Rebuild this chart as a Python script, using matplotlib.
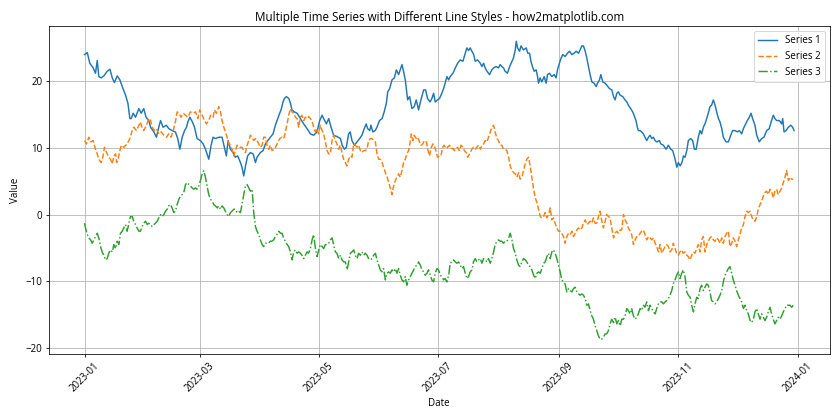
import numpy as np
import pandas as pd
import matplotlib
matplotlib.use("Agg")
import matplotlib.pyplot as plt
import matplotlib.dates as mdates

plt.rcParams['font.family'] = ['Open Sans', 'DejaVu Sans']

start = pd.Timestamp("2023-01-01")

# -----------------------------
# Series 1 (day offsets from 2023-01-01)
# -----------------------------
s1_days = [
    0, 1.4, 2.7, 4.4, 5.6, 6.5, 7.3, 8.5, 9.9, 11.6,
    13.0, 14.2, 15.3, 16.7, 18.1, 19.3, 21.0, 22.2, 23.2, 23.9,
    24.9, 26.1, 27.8, 29.0, 30.3, 31.5, 32.9, 33.8, 35.5, 36.8,
    38.0, 38.9, 40.2, 41.9, 43.1, 44.8, 46.5, 47.7, 48.8, 50.0,
    51.2, 52.2, 52.9, 53.9, 55.2, 56.3, 57.6, 59.3, 60.7, 61.9,
    63.6, 64.8, 65.8, 67.0, 68.7, 70.4, 71.6, 72.6, 73.5, 74.7,
    76.0, 77.2, 78.4, 79.8, 80.6, 81.5, 82.4, 83.5, 84.9, 86.3,
    87.5, 88.3, 90.0, 91.4, 92.6, 93.8, 95.1, 96.5, 97.7, 98.9,
    99.9,
    100.6, 101.6, 102.3, 103.3, 104.6, 105.4, 106.2, 107.4, 108.8, 110.5,
    112.2, 113.9, 115.6, 117.3, 119.0, 120.4, 121.6, 122.4, 123.8, 125.0,
    126.2, 127.5, 129.2, 131.0, 131.9, 133.0, 134.0, 135.2, 136.0, 136.9,
    138.1, 139.5, 140.8, 142.0, 143.2, 144.2, 144.9, 146.0, 146.6, 147.6,
    148.8, 149.7, 151.0, 152.3, 153.4, 154.5, 155.2, 156.2, 157.4, 158.6,
    159.6, 160.8, 161.6, 162.5, 163.3, 164.2, 164.7, 165.4, 166.4, 167.6,
    168.8, 169.8, 171.0, 172.2, 173.6, 174.6, 175.6, 176.9, 177.8, 178.7,
    179.5, 180.7, 181.7, 182.9, 183.8, 184.6, 185.5, 186.4, 187.2, 188.6,
    189.8, 191.0, 192.3, 193.7, 194.9, 195.7, 196.6, 197.4,
    198.3, 199.2, 200.0, 201.2, 202.6, 203.4, 204.3, 205.1, 206.0, 207.3,
    208.5, 209.4, 210.7, 211.9, 212.8, 213.6, 214.5, 215.3, 216.5, 217.6,
    218.8, 219.6, 220.5, 221.0, 221.7, 222.7, 223.4, 224.7, 226.1, 226.9,
    227.8, 228.5, 229.5, 230.2, 231.2, 231.9, 232.4, 233.2, 234.1, 235.3,
    236.3, 237.0, 238.0, 239.2, 240.4, 241.4, 242.1, 243.1, 244.0, 244.8,
    246.0, 247.2, 248.3, 249.4, 250.6, 251.7, 252.9, 253.7, 254.6, 255.4,
    256.3, 257.1, 258.0, 258.8, 259.7, 260.9, 261.9, 262.6, 263.6, 264.3,
    265.3, 266.5, 267.4, 268.7, 269.9, 270.8, 271.6, 272.5, 273.3, 274.2,
    275.5, 276.7, 277.6, 278.4, 279.6, 280.6, 281.3, 282.3, 283.0, 283.5,
    284.4, 285.2, 286.1, 286.9, 287.8, 288.7, 289.5, 290.4, 291.2, 292.1,
    292.9, 294.3,
    295.0, 296.3, 297.7, 298.9, 300.1, 301.1, 302.3, 303.2, 304.0, 304.9,
    305.8, 306.6, 307.4, 308.3, 309.1, 310.3, 311.3, 312.2, 313.1, 314.2,
    315.1, 315.9, 316.8, 317.6, 318.5, 319.3, 320.2, 321.0, 321.9, 322.8,
    323.6, 324.5, 325.3, 326.2, 327.0, 328.4, 329.6, 330.8, 331.8, 333.0,
    334.2, 335.2, 336.4, 337.3, 338.1, 339.3, 340.3, 341.2, 342.0, 343.2,
    344.1, 345.4, 346.6, 347.8, 349.2, 350.5, 351.7, 352.6, 353.4, 354.3,
    355.7, 356.9, 357.4, 358.1, 359.1, 360.3, 361.5, 362.5, 363.2,
]
s1_vals = [
    24.0, 24.3, 22.7, 22.0, 21.2, 23.1, 20.7, 20.5, 20.8, 21.5,
    21.8, 20.5, 19.8, 20.8, 20.2, 19.2, 17.9, 16.7, 14.4, 14.4,
    15.2, 14.6, 15.9, 15.2, 15.9, 14.6, 14.1, 13.1, 12.4, 11.6,
    13.1, 14.1, 13.1, 13.4, 12.9, 12.6, 12.4, 11.4, 9.8, 11.6,
    12.6, 13.1, 13.9, 14.6, 13.9, 13.1, 11.4, 11.1, 10.6, 9.8,
    8.3, 10.4, 11.6, 11.4, 11.6, 11.6, 10.1, 8.8, 11.1, 9.8,
    9.3, 8.6, 8.8, 7.8, 7.1, 5.8, 7.3, 8.8, 9.3, 9.1,
    7.8, 8.6, 9.3, 9.6, 10.6, 11.1, 11.6, 12.1, 13.4, 14.4,
    15.2,
    15.7, 16.9, 17.4, 17.7, 17.4, 16.7, 15.7, 15.4, 15.2, 14.4,
    13.6, 12.9, 12.1, 11.9, 12.4, 14.1, 14.9, 14.4, 13.6, 14.4,
    13.1, 11.9, 11.7, 11.4, 10.4, 9.8, 10.1, 12.1, 12.4, 11.1,
    10.4, 10.9, 11.4, 11.9, 12.9, 13.6, 12.9, 12.6, 13.4, 12.4,
    12.6, 13.1, 14.1, 14.4, 15.4, 16.7, 18.4, 18.9, 20.2, 20.5,
    21.7, 21.0, 21.7, 22.5, 21.5, 20.2, 18.9, 17.2, 17.7, 15.9,
    16.2, 17.2, 15.7, 17.2, 18.7, 18.7, 17.4, 16.9, 17.4, 18.2,
    16.9, 17.2, 17.4, 18.2, 18.9, 19.7, 20.7, 20.2, 20.7, 21.2,
    22.0, 22.7, 23.2, 23.0, 24.2, 25.0, 24.6, 25.0,
    24.5, 24.0, 23.0, 23.2, 22.7, 22.2, 22.7, 22.0, 21.5, 21.0,
    21.7, 22.0, 22.2, 22.0, 22.5, 22.2, 22.0, 21.5, 21.2, 22.2,
    23.0, 23.5, 24.7, 26.0, 25.0, 24.5, 25.3, 24.7, 25.0, 24.2,
    24.2, 23.0, 22.0, 21.5, 21.7, 20.7, 19.7, 20.5, 19.9, 20.7,
    19.7, 21.0, 21.2, 20.7, 21.0, 20.5, 21.7, 22.7, 23.5, 24.0,
    23.7, 24.2, 24.5, 24.0, 24.2, 24.5, 24.2, 24.7, 25.3, 25.3,
    24.5, 23.5, 22.2, 21.0, 19.9, 19.7, 19.2, 19.7, 20.2, 21.0,
    19.9, 19.7, 19.4, 18.9, 18.7, 17.7, 17.2, 18.2, 18.4, 17.9,
    17.7, 17.2, 16.9, 16.4, 15.9, 15.4, 14.9, 14.1, 13.1, 12.6,
    12.6, 12.4, 12.1, 11.6, 11.1, 11.6, 11.9, 11.4, 11.6, 11.1,
    10.9, 11.1,
    10.6, 10.4, 9.8, 10.4, 9.8, 9.6, 8.3, 7.1, 7.8, 7.3,
    7.8, 8.8, 8.6, 9.6, 11.1, 11.4, 11.1, 9.8, 9.8, 11.6,
    12.6, 12.1, 13.1, 13.6, 14.4, 15.2, 16.2, 16.4, 17.2, 16.4,
    15.4, 14.4, 13.9, 12.9, 11.6, 10.9, 10.9, 11.9, 12.6, 12.6,
    12.4, 12.6, 12.1, 12.9, 13.4, 14.1, 14.6, 15.2, 14.4, 13.4,
    11.9, 10.9, 11.4, 11.6, 12.6, 12.9, 14.1, 14.9, 14.4, 14.1,
    14.1, 13.6, 14.4, 12.4, 12.6, 13.1, 13.4, 13.1, 12.6,
]

# -----------------------------
# Shared sample days for Jul-Dec (series 2 and 3)
# -----------------------------
days_jul_oct = [
    198.3, 199.1, 200.0, 200.8, 201.7, 202.6, 203.4, 204.3, 205.1, 206.0,
    206.8, 207.7, 208.5, 209.4, 210.2, 211.1, 211.9, 212.8, 213.6, 214.5,
    215.3, 216.2, 217.1, 217.9, 218.8, 219.6, 220.5, 221.3, 222.2, 223.0,
    223.9, 224.7, 225.6, 226.4, 227.3, 228.1, 229.0, 229.9, 230.7, 231.6,
    232.4, 233.3, 234.1, 235.0, 235.8, 236.7, 237.5, 238.4, 239.2, 240.1,
    240.9, 241.8, 242.6, 243.5, 244.3, 245.2, 246.0, 246.9, 247.8, 248.6,
    249.5, 250.3, 251.2, 252.0, 252.9, 253.7, 254.6, 255.4, 256.3, 257.1,
    258.0, 258.8, 259.7, 260.5, 261.4, 262.2, 263.1, 263.9, 264.8, 265.6,
    266.5, 267.3, 268.2, 269.0, 269.9, 270.8, 271.6, 272.5, 273.3, 274.2,
    275.0, 275.9, 276.7, 277.6, 278.4, 279.3, 280.1, 281.0, 281.8, 282.7,
    283.5, 284.4, 285.2, 286.1, 286.9, 287.8, 288.7, 289.5, 290.4, 291.2,
    292.1, 292.9, 293.8, 294.6,
]
days_oct_dec = [
    295.5, 296.3, 297.2, 298.0, 298.9, 299.7, 300.6, 301.4, 302.3, 303.1,
    304.0, 304.8, 305.7, 306.5, 307.4, 308.3, 309.1, 310.0, 310.8, 311.7,
    312.5, 313.4, 314.2, 315.1, 315.9, 316.8, 317.6, 318.5, 319.3, 320.2,
    321.0, 321.9, 322.8, 323.6, 324.5, 325.3, 326.2, 327.0, 327.9, 328.7,
    329.6, 330.4, 331.3, 332.1, 333.0, 333.8, 334.7, 335.5, 336.4, 337.3,
    338.1, 339.0, 339.8, 340.7, 341.5, 342.4, 343.2, 344.1, 344.9, 345.8,
    346.6, 347.5, 348.3, 349.2, 350.0, 350.9, 351.7, 352.6, 353.4, 354.3,
    355.1, 356.0, 356.9, 357.7, 358.6, 359.4, 360.3, 361.1, 362.0, 362.8,
]

# -----------------------------
# Series 2
# -----------------------------
s2_days_h1 = [
    0, 1.0, 2.2, 3.1, 4.4, 5.6, 6.5, 7.3, 8.5, 9.5,
    10.2, 11.3, 12.4, 13.3, 14.2, 15.0, 15.9, 16.4, 17.0, 18.1,
    18.8, 20.1, 21.8, 23.2, 24.4, 25.2, 26.6, 27.8, 28.6, 29.5,
    30.3, 31.7, 32.9, 33.8, 34.6, 35.8, 36.8, 38.0, 39.2, 40.6,
    41.9, 43.1, 44.3, 45.4, 46.5, 47.4, 48.3, 49.4, 50.5, 51.7,
    52.9, 54.2, 55.6, 56.8, 58.0, 59.0, 60.2, 61.4, 62.4, 63.6,
    64.5, 65.8, 66.5, 67.5, 68.7, 69.6, 70.4, 71.3, 72.1, 73.0,
    73.8, 74.7, 75.5, 76.4, 77.2, 78.1, 79.5, 80.6, 81.5, 82.4,
    83.2, 84.1, 84.9, 85.8, 86.6, 87.5, 88.3, 89.2, 90.0, 90.9,
    91.7, 92.6, 93.4, 94.3, 95.1, 96.0, 97.2, 98.6, 99.9,
    101.1, 102.0, 102.8, 103.7, 104.5, 105.4, 106.2, 107.1, 108.0, 108.8,
    109.6, 110.5, 111.3, 112.2, 113.0, 113.9, 114.7, 115.6, 116.4, 117.3,
    118.1, 119.0, 119.8, 120.7, 121.6, 122.4, 123.3, 124.1, 125.0, 125.8,
    126.7, 127.5, 128.4, 129.2, 130.1, 130.9, 131.8, 132.6, 133.5, 134.3,
    135.2, 136.0, 136.9, 137.8, 138.6, 139.5, 140.3, 141.2, 142.0, 142.9,
    143.7, 144.6, 145.4, 146.3, 147.1, 148.0, 148.9, 149.7, 150.6, 151.4,
    152.3, 153.1, 154.0, 154.9, 155.7, 156.5, 157.4, 158.2, 159.1, 159.9,
    160.8, 161.6, 162.5, 163.3, 164.2, 165.0, 165.9, 166.7, 167.3, 168.1,
    168.8, 169.8, 170.5, 171.5, 172.2, 173.2, 173.9, 175.0, 175.6, 176.6,
    177.3, 178.3, 179.0, 180.1, 180.7, 181.7, 182.4, 183.4, 184.1, 185.1,
    185.8, 186.9, 187.6, 188.6, 189.3, 190.3, 190.9, 191.9, 192.7, 193.7,
    194.4, 195.4, 196.1, 197.1,
]
s2_vals = [
    11.1, 10.6, 11.6, 10.9, 11.1, 9.8, 9.1, 8.3, 7.8, 8.8,
    10.1, 9.3, 8.6, 8.3, 7.6, 8.8, 9.1, 7.8, 8.1, 9.6,
    10.4, 10.1, 10.6, 11.4, 12.6, 13.1, 12.6, 13.4, 13.9, 12.9,
    12.6, 13.4, 14.4, 14.1, 13.1, 12.6, 12.9, 12.1, 12.4, 11.9,
    11.6, 12.1, 11.6, 12.6, 13.9, 15.4, 15.2, 14.6, 15.2, 14.9,
    14.6, 15.4, 15.2, 15.4, 14.4, 15.7, 14.9, 14.1, 13.6, 14.1,
    14.9, 14.6, 15.7, 15.2, 16.2, 15.4, 14.1, 13.1, 12.4, 11.6,
    10.6, 10.4, 9.8, 8.8, 9.6, 10.4, 10.1, 10.1, 9.6, 9.3,
    10.4, 11.1, 11.9, 11.6, 11.1, 11.4, 11.1, 10.6, 10.1, 10.4,
    11.6, 11.6, 10.4, 9.8, 10.4, 9.6, 9.8, 10.6, 11.4,
    11.6, 11.4, 12.4, 13.6, 14.9, 15.9, 15.4, 15.2, 14.6, 14.4,
    13.1, 14.6, 14.9, 14.1, 14.6, 14.4, 14.7, 14.4, 14.1, 13.1,
    12.4, 12.9, 12.1, 13.4, 12.6, 12.1, 10.9, 9.6, 9.1, 9.1,
    11.1, 11.9, 11.1, 10.6, 9.8, 10.4, 9.3, 8.3, 7.8, 7.3,
    8.3, 8.8, 8.6, 10.6, 10.4, 10.1, 10.4, 9.6, 9.3, 9.6,
    9.6, 9.8, 11.1, 11.4, 11.4, 11.1, 10.9, 9.1, 8.3, 8.3,
    7.8, 7.1, 6.3, 5.6, 4.8, 4.0, 3.0, 4.3, 5.1, 5.6,
    6.1, 5.6, 6.6, 7.8, 8.3, 9.1, 9.6, 10.9, 12.1, 11.1,
    11.9, 11.4, 11.6, 10.9, 10.4, 10.6, 11.1, 10.9, 9.9, 8.8,
    9.9, 10.6, 10.4, 9.3, 8.6, 8.8, 8.8, 10.1, 10.4, 9.9,
    10.1, 10.4, 9.9, 9.9, 9.6, 9.9, 10.1, 9.6, 10.4, 10.1,
    9.6, 9.3, 8.6, 9.1,
    9.8, 10.1, 9.8, 10.1, 10.4, 9.8, 10.4, 10.6, 11.1, 10.9,
    11.6, 12.4, 13.1, 13.4, 12.4, 11.4, 11.1, 10.4, 10.4, 9.8,
    9.8, 9.6, 8.6, 7.3, 6.6, 6.3, 6.1, 5.6, 6.3, 5.3,
    5.6, 6.6, 7.6, 8.3, 8.6, 7.3, 5.6, 3.8, 2.5, 1.8,
    0.8, -0.3, -0.5, -0.3, 0.3, -0.5, 0.0, 1.0, -0.8, -0.5,
    -1.3, -2.0, -2.5, -2.5, -2.8, -3.3, -4.3, -3.3, -2.8, -3.0,
    -2.5, -3.3, -2.8, -2.3, -2.0, -2.3, -2.0, -1.3, -0.8, -1.5,
    -1.3, -1.0, -1.3, -0.5, -1.3, -1.3, -0.3, 0.5, -1.0, -2.0,
    -1.0, 0.0, -0.3, -0.5, -2.0, -3.5, -2.8, -2.5, -2.8, -2.3,
    -2.3, 0.0, -0.8, -1.3, -2.0, -2.5, -3.0, -4.5, -3.8, -3.3,
    -3.3, -2.8, -2.5, -2.3, -3.0, -3.8, -3.3, -3.5, -3.8, -3.5,
    -4.3, -4.8, -5.6, -4.5,
    -5.8, -5.3, -4.8, -4.5, -4.8, -5.6, -5.3, -4.3, -5.1, -5.8,
    -6.1, -5.6, -5.3, -5.8, -5.6, -6.1, -6.3, -6.8, -6.1, -5.6,
    -5.8, -5.1, -4.5, -5.6, -3.8, -3.3, -5.6, -4.5, -4.0, -3.5,
    -3.3, -3.8, -4.0, -3.5, -3.8, -4.3, -3.5, -4.3, -3.3, -2.8,
    -2.5, -4.8, -4.3, -3.5, -4.0, -4.8, -3.8, -3.0, -2.0, -1.5,
    -0.3, 0.5, 0.3, 0.5, -0.3, -0.8, -1.0, -0.3, 0.8, 1.5,
    2.0, 2.8, 3.3, 3.5, 3.0, 3.8, 3.5, 2.5, 3.5, 3.8,
    3.0, 3.5, 4.0, 4.8, 5.6, 6.6, 5.1, 5.6, 5.3, 5.3,
]
s2_days = s2_days_h1 + days_jul_oct + days_oct_dec

# -----------------------------
# Series 3
# -----------------------------
s3_days_h1 = [
    0, 0.5, 1.4, 2.2, 3.1, 3.9, 4.8, 5.6, 6.5, 7.3,
    8.2, 9.0, 9.9, 10.7, 11.6, 12.4, 13.3, 14.2, 15.0, 15.9,
    16.7, 17.6, 18.4, 19.3, 20.1, 21.0, 21.8, 22.7, 23.5, 24.4,
    25.2, 26.1, 26.9, 27.8, 28.6, 29.5, 30.3, 31.2, 32.1, 32.9,
    33.8, 34.6, 35.5, 36.3, 37.2, 38.0, 38.9, 39.7, 40.6, 41.4,
    42.3, 43.1, 44.0, 44.8, 45.7, 46.5, 47.4, 48.3, 49.1, 50.0,
    50.8, 51.7, 52.5, 53.4, 54.2, 55.1, 55.9, 56.8, 57.6, 58.5,
    59.3, 60.2, 61.0, 61.9, 62.7, 63.6, 64.5, 65.3, 66.2, 67.0,
    67.9, 68.7, 69.6, 70.4, 71.3, 72.1, 73.0, 73.8, 74.7, 75.5,
    76.4, 77.2, 78.1, 78.9, 79.8, 80.6, 81.5, 82.4, 83.2, 84.1,
    84.9, 85.8, 86.6, 87.5, 88.3, 89.2, 90.0, 90.9, 91.7, 92.6,
    93.4, 94.3, 95.1, 95.9, 96.8, 97.7, 98.5, 99.4, 100.3,
    101.1, 101.9, 102.8, 103.7, 104.5, 105.4, 106.2, 107.1, 107.9, 108.8,
    109.6, 110.5, 111.3, 112.2, 113.0, 113.9, 114.7, 115.6, 116.5, 117.3,
    118.2, 119.0, 119.9, 120.7, 121.6, 122.4, 123.3, 124.1, 125.0, 125.8,
    126.7, 127.5, 128.4, 129.2, 130.1, 131.0, 131.8, 132.7, 133.5, 134.4,
    135.2, 136.1, 136.9, 137.8, 138.6, 139.5, 140.3, 141.2, 142.0, 142.9,
    143.7, 144.6, 145.4, 146.3, 147.2, 148.0, 148.9, 149.7, 150.6, 151.4,
    152.3, 153.1, 154.0, 154.8, 155.7, 156.5, 157.4, 158.2, 159.1, 159.9,
    160.8, 161.6, 162.5, 163.3, 164.2, 165.0, 165.9, 166.8, 167.6, 168.5,
    169.3, 170.2, 171.0, 171.9, 172.7, 173.6, 174.4, 175.3, 176.1, 177.0,
    177.8, 178.7, 179.5, 180.4, 181.2, 182.1, 182.9, 183.8, 184.6, 185.5,
    186.4, 187.2, 188.1, 188.9, 189.8, 190.6, 191.5, 192.3, 193.2, 194.0,
    194.9, 195.7, 196.6, 197.4,
]
s3_vals = [
    -1.3, -2.0, -3.0, -3.5, -3.8, -4.3, -3.8, -3.3, -2.8, -3.5,
    -4.8, -5.6, -6.1, -6.8, -6.6, -5.8, -5.3, -5.6, -4.5, -5.1,
    -4.0, -4.5, -2.8, -2.5, -2.0, -1.5, -2.5, -1.3, -0.3, -0.3,
    -1.0, -1.5, -2.0, -2.5, -2.5, -1.8, -1.3, -1.0, -1.5, -1.3,
    -1.5, -1.8, -1.5, -1.3, -1.0, -0.5, 0.0, -0.3, 0.0, 0.5,
    0.8, 1.3, 1.5, 1.0, 0.3, 0.5, 1.5, 2.3, 2.8, 3.0,
    3.3, 4.5, 4.8, 4.5, 4.3, 4.0, 3.8, 4.0, 3.8, 4.3,
    5.1, 6.1, 6.6, 5.6, 4.3, 3.0, 2.3, 2.0, 1.5, 1.3,
    1.0, 1.3, 0.8, 1.3, 1.0, 0.5, 0.0, -0.3, 0.3, 0.5,
    0.8, 0.8, 0.3, 0.5, 0.3, 1.5, 3.0, 4.3, 4.5, 4.0,
    3.5, 3.8, 0.3, -1.8, -2.5, -3.0, -3.8, -4.5, -4.8, -4.3,
    -4.3, -4.3, -4.0, -4.0, -3.8, -3.3, -3.0, -2.5, -2.8,
    -2.8, -3.5, -4.0, -4.5, -4.8, -5.6, -6.8, -5.6, -5.3, -5.8,
    -5.6, -5.8, -6.1, -6.6, -6.1, -5.6, -5.8, -5.1, -3.8, -3.0,
    -5.1, -6.3, -5.3, -4.5, -4.8, -5.1, -4.5, -4.5, -4.3, -3.8,
    -3.5, -4.5, -5.6, -5.8, -6.6, -6.1, -6.8, -7.1, -7.1, -8.3,
    -7.1, -5.8, -5.6, -5.3, -6.1, -6.6, -5.8, -6.1, -5.6, -6.1,
    -5.8, -6.1, -6.6, -6.8, -6.6, -6.1, -5.8, -6.8, -7.6, -8.3,
    -8.6, -8.1, -9.8, -8.8, -8.6, -8.8, -8.3, -8.6, -8.1, -8.8,
    -8.1, -9.1, -9.8, -10.1, -9.3, -10.6, -9.8, -9.3, -8.8, -8.3,
    -7.8, -7.6, -7.1, -7.6, -8.3, -8.6, -9.1, -8.8, -8.3, -9.1,
    -9.8, -10.1, -8.8, -8.1, -8.3, -9.1, -9.3, -9.8, -9.6, -10.1,
    -9.1, -7.3, -7.1, -6.8, -7.1, -7.3, -7.1, -7.6, -8.1, -7.8,
    -8.8, -9.6, -9.3, -8.6,
    -8.3, -7.1, -6.6, -7.1, -6.8, -6.6, -7.3, -6.6, -6.8, -7.1,
    -6.6, -7.3, -6.6, -5.6, -4.5, -4.0, -3.8, -4.0, -4.0, -4.3,
    -4.0, -4.0, -3.5, -2.8, -3.8, -5.1, -5.8, -6.8, -7.6, -7.8,
    -7.1, -6.6, -6.8, -7.1, -7.6, -7.8, -8.3, -9.1, -9.6, -8.8,
    -8.6, -8.8, -8.1, -7.3, -7.1, -6.3, -5.8, -6.6, -5.6, -5.3,
    -5.8, -6.6, -7.6, -8.6, -9.8, -10.1, -10.4, -11.6, -11.1, -11.4,
    -11.6, -11.1, -10.9, -11.6, -11.9, -12.1, -11.9, -12.1, -12.6, -13.6,
    -13.4, -14.4, -15.2, -15.7, -16.7, -17.4, -18.2, -18.7, -18.7, -18.4,
    -17.9, -17.9, -17.4, -16.4, -15.7, -16.2, -15.4, -16.4, -15.9, -16.7,
    -15.7, -15.7, -15.2, -14.1, -14.4, -14.9, -14.1, -15.2, -15.7, -15.4,
    -14.9, -14.1, -14.4, -13.6, -13.9, -13.1, -14.4, -13.6, -14.1, -14.6,
    -14.9, -14.1, -13.4, -13.1,
    -13.1, -13.4, -13.1, -12.9, -12.6, -12.1, -11.4, -10.4, -9.8, -9.1,
    -8.6, -9.6, -8.8, -8.3, -9.3, -11.6, -12.1, -12.4, -13.6, -14.6,
    -13.4, -12.4, -12.6, -11.1, -10.6, -11.4, -10.9, -10.4, -10.6, -11.6,
    -12.9, -13.1, -13.4, -13.1, -12.6, -12.1, -11.4, -10.1, -9.1, -8.6,
    -8.1, -7.8, -8.8, -9.8, -10.6, -11.4, -12.1, -12.6, -13.1, -14.1,
    -13.6, -14.4, -14.9, -15.9, -16.2, -15.7, -14.6, -14.1, -14.9, -15.7,
    -14.9, -15.4, -15.9, -15.4, -14.6, -13.9, -14.9, -15.7, -16.4, -15.9,
    -15.4, -15.7, -15.2, -14.6, -14.1, -13.6, -13.6, -13.6, -13.9, -13.6,
]
s3_days = s3_days_h1 + days_jul_oct + days_oct_dec


def to_dates(days):
    return start + pd.to_timedelta(np.array(days), unit="D")


# -----------------------------
# PLOT
# -----------------------------
fig, ax = plt.subplots(figsize=(12, 6), dpi=70)
ax.plot(to_dates(s1_days), s1_vals, linestyle="-", label="Series 1")
ax.plot(to_dates(s2_days), s2_vals, linestyle="--", label="Series 2")
ax.plot(to_dates(s3_days), s3_vals, linestyle="-.", label="Series 3")

ax.set_title("Multiple Time Series with Different Line Styles - how2matplotlib.com", fontsize=12)
ax.set_xlabel("Date")
ax.set_ylabel("Value")
ax.xaxis.set_major_locator(mdates.MonthLocator(bymonth=[1, 3, 5, 7, 9, 11]))
ax.xaxis.set_major_formatter(mdates.DateFormatter("%Y-%m"))
ax.legend()
ax.grid(True)
plt.xticks(rotation=45)
plt.tight_layout()

plt.savefig("out.png")
